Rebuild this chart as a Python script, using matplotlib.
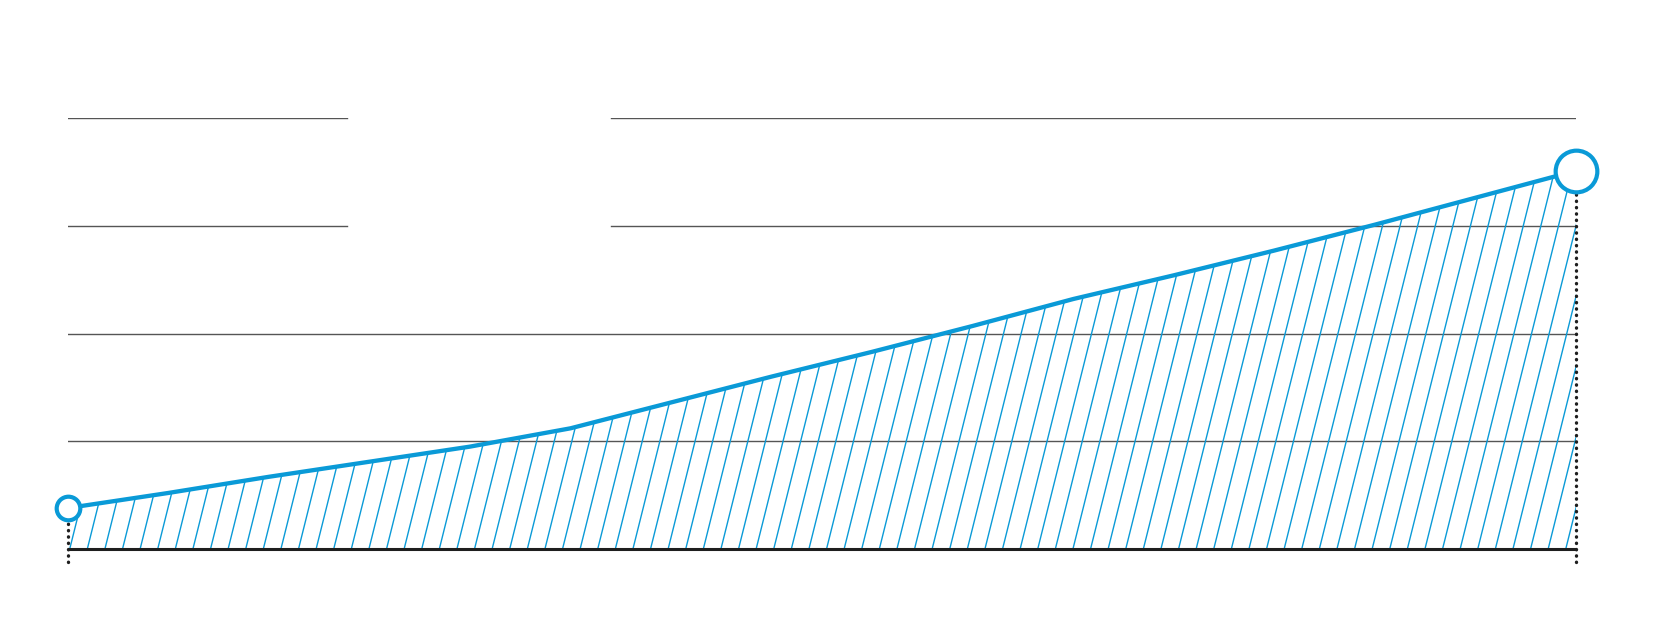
import numpy as np
import matplotlib
matplotlib.use("Agg")
import matplotlib.pyplot as plt
from matplotlib.collections import LineCollection
from matplotlib.patches import Polygon

# 데이터 (그림에서 읽은 값, 16개 지점)
years = np.arange(16)
values = [0.38, 0.52, 0.67, 0.81, 0.95, 1.12, 1.36, 1.60, 1.83,
          2.07, 2.32, 2.54, 2.77, 3.01, 3.26, 3.51]
grid_levels = [1, 2, 3, 4]
gap_levels = [3, 4]          # 가운데가 끊긴 가로선
gap_span = (2.78, 5.40)

BLUE = '#0a9ad7'
DARK = '#1e1e1e'
GRID = '#555555'

fig = plt.figure(figsize=(16.6, 6.18), dpi=100)
ax = fig.add_axes([67.7 / 1660, (618 - 549) / 618, 1508.3 / 1660, 431 / 618])
ax.set_xlim(0, 15)
ax.set_ylim(0, 4)
ax.axis('off')

# 가로 눈금선
for g in grid_levels:
    if g in gap_levels:
        ax.plot([0, gap_span[0]], [g, g], color=GRID, lw=1.0, zorder=1)
        ax.plot([gap_span[1], 15], [g, g], color=GRID, lw=1.0, zorder=1)
    else:
        ax.plot([0, 15], [g, g], color=GRID, lw=1.0, zorder=1)

# 빗금 채우기 (가파른 사선을 영역 모양으로 잘라냄)
verts = list(zip(years, values)) + [(15, 0), (0, 0)]
clip = Polygon(verts, closed=True, transform=ax.transData)
step = 17.6 / 100.55       # 가로 간격 (데이터 단위)
lean = 0.2676              # y 1 단위당 x 이동
starts = np.arange(0.02, 15 + step, step)
segs = [[(s, 0), (s + lean * 4, 4)] for s in starts]
hatch = LineCollection(segs, colors=BLUE, linewidths=1.0, zorder=2)
hatch.set_clip_path(clip)
ax.add_collection(hatch)

# 바닥선
ax.plot([0, 15], [0, 0], color=DARK, lw=2.2, zorder=3,
        solid_capstyle='butt', clip_on=False)

# 양 끝 점선
for x, v in [(years[0], values[0]), (years[-1], values[-1])]:
    ax.plot([x, x], [-0.12, v], color=DARK, lw=2.4, ls=(0, (0.1, 1.8)),
            dash_capstyle='round', zorder=3, clip_on=False)

# 선
ax.plot(years, values, color=BLUE, lw=3.1, zorder=4, clip_on=False,
        solid_capstyle='round')

# 시작/끝 표시
ax.plot(years[0], values[0], 'o', ms=17, mfc='white', mec=BLUE, mew=3.0,
        zorder=5, clip_on=False)
ax.plot(years[-1], values[-1], 'o', ms=30, mfc='white', mec=BLUE, mew=3.0,
        zorder=5, clip_on=False)

fig.savefig('out.png', dpi=100, facecolor='white')
